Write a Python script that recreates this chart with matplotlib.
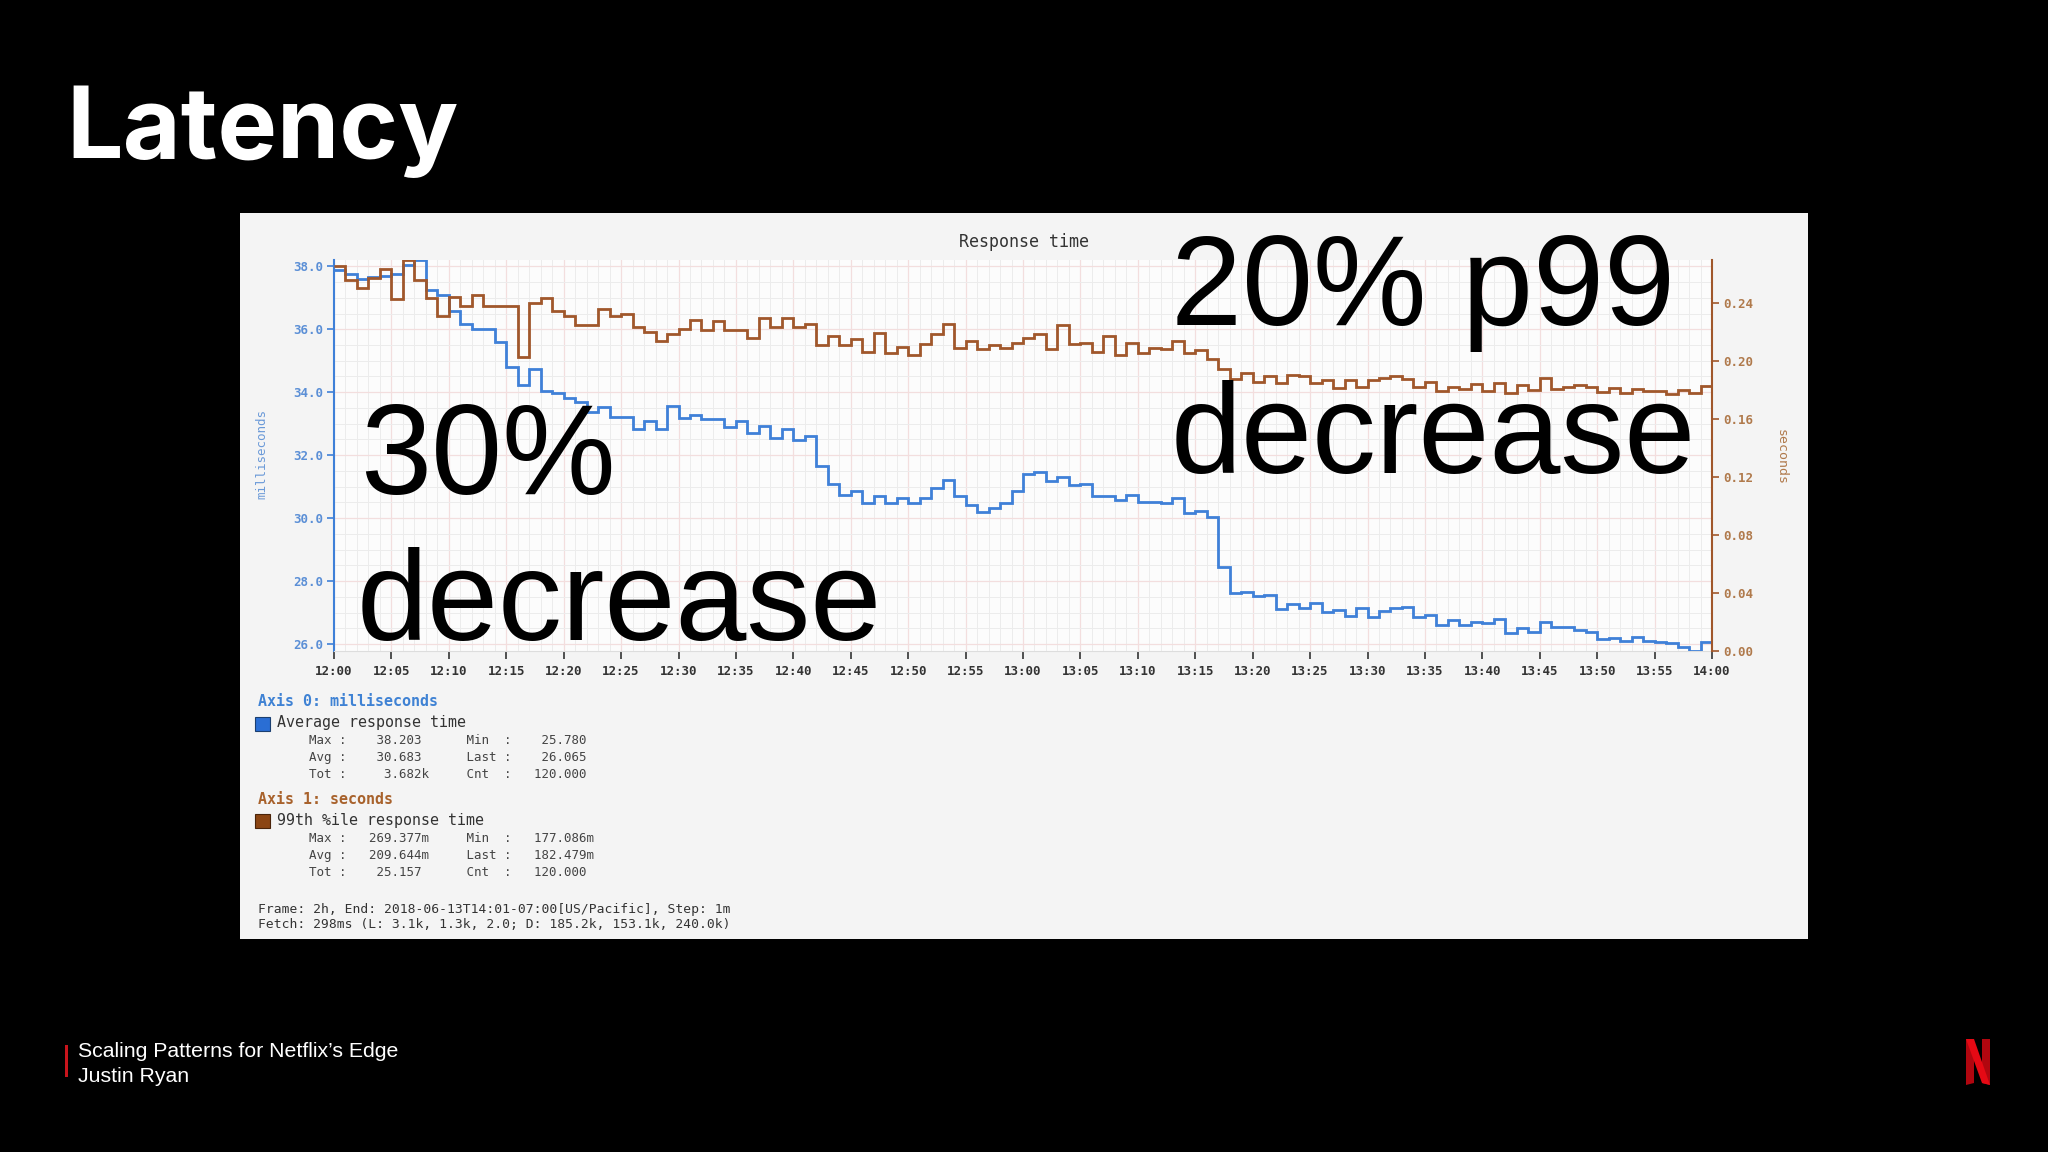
import numpy as np
import matplotlib
matplotlib.use("Agg")
from matplotlib import pyplot as plt
from matplotlib.patches import Rectangle, Polygon
from matplotlib.ticker import MultipleLocator, FormatStrFormatter

# Data: one value per minute, 12:00 -> 14:00
avg_ms = np.array([
    37.87, 37.77, 37.59, 37.66, 37.69, 37.74, 38.03, 38.20, 37.24, 37.08,
    36.57, 36.18, 36.02, 36.02, 35.58, 34.80, 34.22, 34.73, 34.03, 33.96,
    33.82, 33.69, 33.38, 33.53, 33.22, 33.22, 32.83, 33.08, 32.83, 33.57,
    33.19, 33.27, 33.14, 33.14, 32.89, 33.09, 32.69, 32.93, 32.55, 32.83,
    32.48, 32.60, 31.66, 31.10, 30.75, 30.86, 30.47, 30.69, 30.47, 30.65,
    30.47, 30.65, 30.96, 31.20, 30.71, 30.41, 30.20, 30.31, 30.47, 30.86,
    31.41, 31.45, 31.17, 31.31, 31.05, 31.07, 30.71, 30.71, 30.57, 30.73,
    30.50, 30.52, 30.49, 30.65, 30.15, 30.22, 30.03, 28.45, 27.61, 27.66,
    27.53, 27.56, 27.11, 27.26, 27.15, 27.29, 27.01, 27.08, 26.89, 27.14,
    26.85, 27.05, 27.14, 27.19, 26.87, 26.92, 26.62, 26.76, 26.60, 26.71,
    26.66, 26.81, 26.34, 26.50, 26.39, 26.71, 26.55, 26.55, 26.44, 26.37,
    26.16, 26.20, 26.10, 26.23, 26.10, 26.08, 26.02, 25.92, 25.78, 26.07,
])

p99_s = np.array([
    0.2656, 0.2559, 0.2499, 0.2568, 0.2632, 0.2425, 0.2694, 0.2559, 0.2430, 0.2310,
    0.2436, 0.2374, 0.2453, 0.2379, 0.2379, 0.2374, 0.2029, 0.2397, 0.2430, 0.2344,
    0.2310, 0.2245, 0.2245, 0.2356, 0.2310, 0.2321, 0.2229, 0.2199, 0.2137, 0.2183,
    0.2222, 0.2282, 0.2213, 0.2275, 0.2213, 0.2213, 0.2158, 0.2291, 0.2229, 0.2291,
    0.2229, 0.2252, 0.2107, 0.2172, 0.2107, 0.2148, 0.2061, 0.2190, 0.2056, 0.2098,
    0.2038, 0.2114, 0.2183, 0.2252, 0.2091, 0.2137, 0.2079, 0.2107, 0.2091, 0.2121,
    0.2160, 0.2183, 0.2079, 0.2245, 0.2114, 0.2121, 0.2061, 0.2167, 0.2038, 0.2121,
    0.2056, 0.2091, 0.2084, 0.2137, 0.2052, 0.2075, 0.2010, 0.1941, 0.1876, 0.1913,
    0.1853, 0.1895, 0.1844, 0.1899, 0.1895, 0.1844, 0.1867, 0.1814, 0.1867, 0.1821,
    0.1867, 0.1883, 0.1895, 0.1876, 0.1821, 0.1856, 0.1791, 0.1818, 0.1807, 0.1837,
    0.1791, 0.1849, 0.1775, 0.1830, 0.1798, 0.1883, 0.1807, 0.1821, 0.1830, 0.1821,
    0.1784, 0.1814, 0.1780, 0.1807, 0.1791, 0.1791, 0.1771, 0.1798, 0.1780, 0.1825,
])

time_labels = ["12:00", "12:05", "12:10", "12:15", "12:20", "12:25", "12:30",
               "12:35", "12:40", "12:45", "12:50", "12:55", "13:00", "13:05",
               "13:10", "13:15", "13:20", "13:25", "13:30", "13:35", "13:40",
               "13:45", "13:50", "13:55", "14:00"]

ms_stats = ["Max :    38.203      Min  :    25.780",
            "Avg :    30.683      Last :    26.065",
            "Tot :     3.682k     Cnt  :   120.000"]
s_stats = ["Max :   269.377m     Min  :   177.086m",
           "Avg :   209.644m     Last :   182.479m",
           "Tot :    25.157      Cnt  :   120.000"]
footer_lines = ["Frame: 2h, End: 2018-06-13T14:01-07:00[US/Pacific], Step: 1m",
                "Fetch: 298ms (L: 3.1k, 1.3k, 2.0; D: 185.2k, 153.1k, 240.0k)"]

W, H = 2048, 1152
BLUE = "#3f80d8"
BROWN = "#a0572b"
MONO = "DejaVu Sans Mono"


def fx(x):
    return x / W


def fy(y):
    return 1 - y / H


fig = plt.figure(figsize=(W / 100, H / 100), dpi=100, facecolor="black")

# light panel holding the screenshot of the chart
fig.add_artist(Rectangle((fx(240), fy(939)), (1808 - 240) / W, (939 - 213) / H,
                         transform=fig.transFigure, facecolor="#f4f4f4",
                         edgecolor="none", zorder=-1))

ax = fig.add_axes([fx(334), fy(651), (1712 - 334) / W, (651 - 260) / H])
ax.set_facecolor("#fcfcfc")
edges = np.arange(len(avg_ms) + 1)
ax.stairs(avg_ms, edges, baseline=None, color=BLUE, lw=2.0, zorder=3)
ax.set_xlim(0, len(avg_ms))
ax.set_ylim(avg_ms.min(), avg_ms.max())

ax.set_xticks(np.arange(0, len(avg_ms) + 1, 5))
ax.set_xticklabels(time_labels)
ax.xaxis.set_minor_locator(MultipleLocator(1))
ax.set_yticks(np.arange(26, 39, 2))
ax.yaxis.set_major_formatter(FormatStrFormatter("%.1f"))
ax.yaxis.set_minor_locator(MultipleLocator(0.5))
ax.grid(which="major", color="#f3dede", lw=0.9)
ax.grid(which="minor", color="#ececec", lw=0.7)
ax.set_axisbelow(True)
ax.tick_params(which="minor", length=0)
ax.tick_params(axis="x", which="major", length=6, width=1.2, color="#333333",
               labelcolor="#333333", labelsize=9, pad=4)
ax.tick_params(axis="y", which="major", length=5, width=1.2, color=BLUE,
               labelcolor="#5b8fd6", labelsize=9, pad=3)
for lab in ax.get_xticklabels() + ax.get_yticklabels():
    lab.set_fontfamily(MONO)
    lab.set_fontweight("bold")
ax.spines["top"].set_visible(False)
ax.spines["right"].set_visible(False)
ax.spines["left"].set_color(BLUE)
ax.spines["left"].set_linewidth(1.5)
ax.spines["bottom"].set_color("#dddddd")

ax2 = ax.twinx()
ax2.stairs(p99_s, edges, baseline=None, color=BROWN, lw=2.0)
ax2.set_ylim(0, p99_s.max())
ax2.set_yticks(np.arange(0, 0.25, 0.04))
ax2.yaxis.set_major_formatter(FormatStrFormatter("%.2f"))
ax2.tick_params(axis="y", length=5, width=1.2, color=BROWN,
                labelcolor="#b07a4c", labelsize=9, pad=3)
for lab in ax2.get_yticklabels():
    lab.set_fontfamily(MONO)
    lab.set_fontweight("bold")
for side in ["top", "left", "bottom"]:
    ax2.spines[side].set_visible(False)
ax2.spines["right"].set_color(BROWN)
ax2.spines["right"].set_linewidth(1.5)

fig.text(fx(1024), fy(242), "Response time", ha="center", va="center",
         fontsize=12, family=MONO, color="#333333")
fig.text(fx(262), fy(454), "milliseconds", rotation=90, ha="center", va="center",
         fontsize=9, family=MONO, color="#6b9ad8")
fig.text(fx(1781), fy(457), "seconds", rotation=-90, ha="center", va="center",
         fontsize=9.5, family=MONO, color="#b07a4c")

# legend block
fig.text(fx(258), fy(702), "Axis 0: milliseconds", ha="left", va="center",
         fontsize=10.8, family=MONO, weight="bold", color="#3f82d4")
fig.add_artist(Rectangle((fx(255), fy(731)), 15 / W, 14 / H, transform=fig.transFigure,
                         facecolor="#2a6ed4", edgecolor="#1b3f70", lw=0.8))
fig.text(fx(277), fy(723), "Average response time", ha="left", va="center",
         fontsize=10.8, family=MONO, color="#333333")
for row, y in zip(ms_stats, [741, 758, 775]):
    fig.text(fx(309), fy(y), row, ha="left", va="center", fontsize=9,
             family=MONO, color="#444444")

fig.text(fx(258), fy(799), "Axis 1: seconds", ha="left", va="center",
         fontsize=10.8, family=MONO, weight="bold", color="#a8622c")
fig.add_artist(Rectangle((fx(255), fy(828)), 15 / W, 14 / H, transform=fig.transFigure,
                         facecolor="#8b4513", edgecolor="#4a240a", lw=0.8))
fig.text(fx(277), fy(821), "99th %ile response time", ha="left", va="center",
         fontsize=10.8, family=MONO, color="#333333")
for row, y in zip(s_stats, [839, 856, 873]):
    fig.text(fx(309), fy(y), row, ha="left", va="center", fontsize=9,
             family=MONO, color="#444444")

for row, y in zip(footer_lines, [909, 925]):
    fig.text(fx(258), fy(y), row, ha="left", va="center", fontsize=9.4,
             family=MONO, color="#333333")

# big annotations over the chart
big = dict(fontsize=92, family="Liberation Sans", color="black", ha="left",
           va="baseline", zorder=10)
fig.text(fx(360), fy(494), "30%", **big)
fig.text(fx(357), fy(640), "decrease", **big)
fig.text(fx(1171), fy(325), "20% p99", **big)
fig.text(fx(1171), fy(473), "decrease", **big)

# slide title and footer
fig.text(fx(66), fy(158), "Latency", fontsize=72, family="Inter", weight="bold",
         color="white", ha="left", va="baseline")
fig.add_artist(Rectangle((fx(65), fy(1077)), 2.5 / W, 32 / H, transform=fig.transFigure,
                         facecolor="#c8141c", edgecolor="none"))
fig.text(fx(78), fy(1057), "Scaling Patterns for Netflix\u2019s Edge", fontsize=15.3,
         family="Liberation Sans", color="white", ha="left", va="baseline")
fig.text(fx(78), fy(1082), "Justin Ryan", fontsize=15.3,
         family="Liberation Sans", color="white", ha="left", va="baseline")

# Netflix "N" mark
def poly(pts, color):
    fig.add_artist(Polygon([(fx(x), fy(y)) for x, y in pts], closed=True,
                           transform=fig.transFigure, facecolor=color,
                           edgecolor="none"))


poly([(1966, 1039), (1974, 1039), (1974, 1083), (1966, 1085)], "#b1060f")
poly([(1982, 1039), (1990, 1039), (1990, 1085), (1982, 1083)], "#b1060f")
poly([(1966, 1039), (1974, 1039), (1990, 1085), (1982, 1083)], "#e50914")

fig.savefig("out.png", dpi=100, facecolor="black")
